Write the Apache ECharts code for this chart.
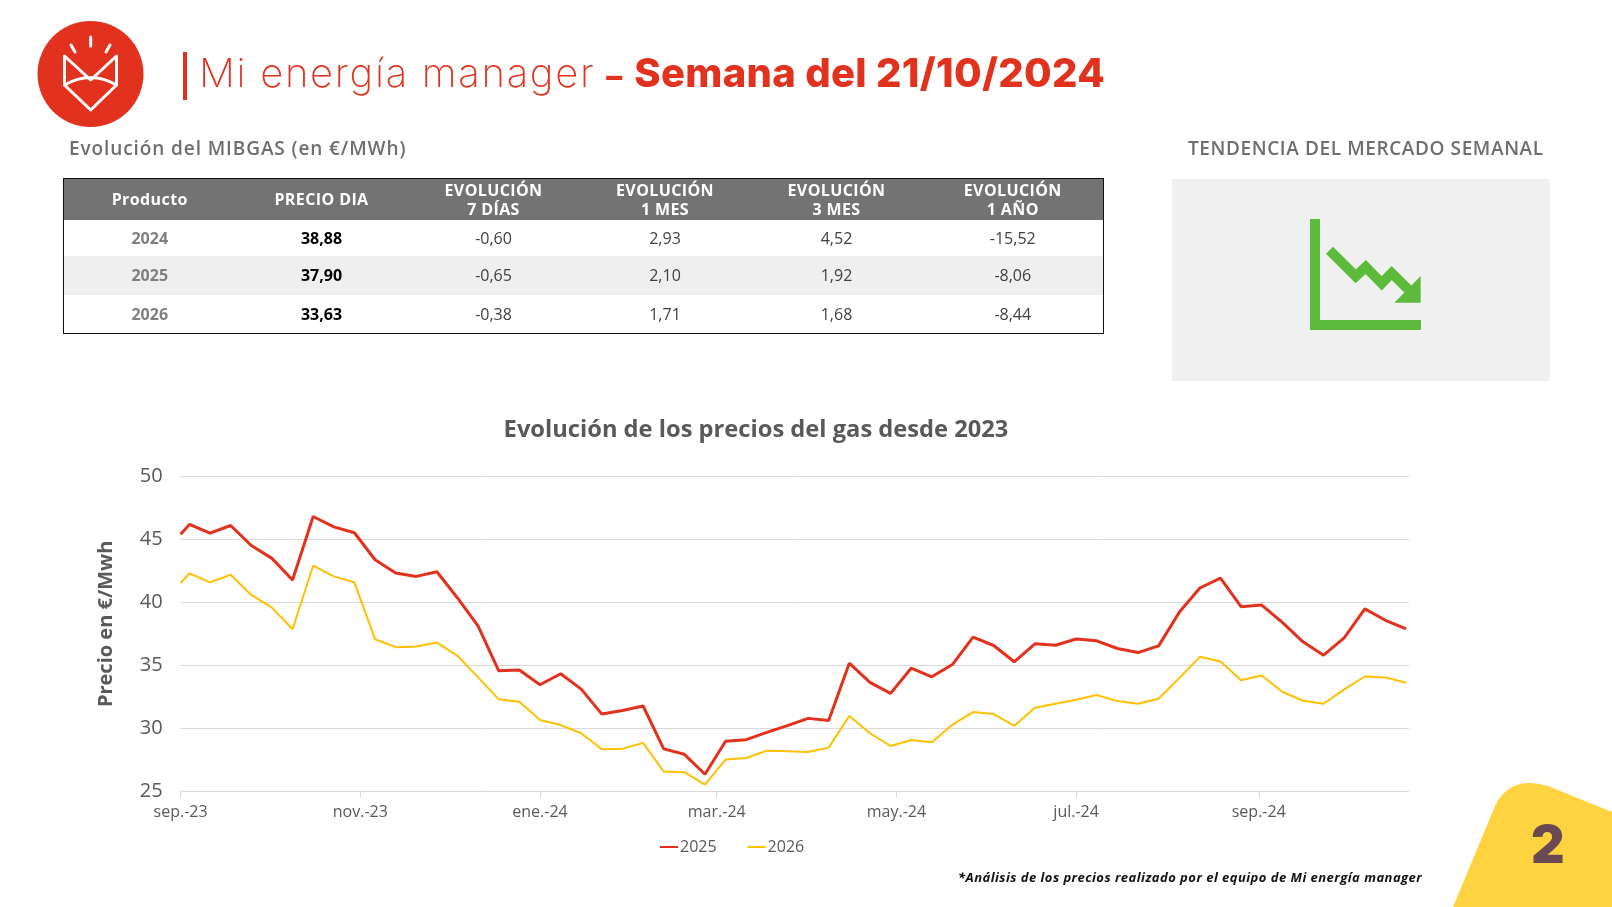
<!DOCTYPE html>
<html lang="es">
<head>
<meta charset="utf-8">
<title>Mi energía manager</title>
<script src="https://cdn.jsdelivr.net/npm/echarts@6/dist/echarts.min.js"></script>
<style>
    html, body { margin: 0; padding: 0; background: #fff; }
    body { width: 1612px; height: 907px; position: relative; overflow: hidden; font-family: "Open Sans", sans-serif; }
    #preciosChart { position: absolute; left: 0; top: 0; width: 1612px; height: 907px; }
    .abs { position: absolute; white-space: nowrap; }
    #titulo { left: 199px; top: 46px; font-family: Inter, sans-serif; font-size: 40px; line-height: 54px; color: #E2311D; font-weight: 200; letter-spacing: 1.7px; }
    #titulo b { font-weight: 800; letter-spacing: 0.3px; }
    #titulo b i { font-style: normal; font-size: 32px; letter-spacing: 0; margin-left: -2px; margin-right: 5px; }
    #barra { left: 183px; top: 52px; width: 3.5px; height: 48px; background: #E2311D; }
    .subtitulo { font-size: 19px; font-weight: 600; color: #6E6E6E; line-height: 26px; }
    #tablaPrecios { position: absolute; left: 63px; top: 178px; width: 1040px; border-collapse: collapse; table-layout: fixed; border: 1.5px solid #111; font-size: 16px; color: #404040; }
    #tablaPrecios th { background: #737373; color: #fff; height: 41px; padding: 0; font-weight: 700; font-size: 16px; line-height: 19px; letter-spacing: 0.4px; }
    #tablaPrecios td { text-align: center; padding: 0; height: 38.5px; }
    #tablaPrecios tr:nth-child(1) td { height: 36px; }
    #tablaPrecios td:first-child { color: #7F7F7F; font-weight: 700; }
    #tablaPrecios td:nth-child(2) { color: #000; font-weight: 700; }
    #tablaPrecios tr:nth-child(2) td { background: #EFEFEF; }
    #panel { left: 1172px; top: 179px; width: 378px; height: 202px; background: #F0F0F0; }
    #nota { left: 958px; top: 868px; font-size: 13px; font-weight: 700; font-style: italic; color: #111; letter-spacing: 0.47px; }
    #pagina { left: 1531px; top: 809px; font-size: 52px; line-height: 72px; font-weight: 900; color: #6A4A52; font-family: Inter, sans-serif; }
</style>
</head>
<body>
<div id="preciosChart"></div>

<!-- logo -->
<svg class="abs" style="left:0;top:0" width="200" height="140">
    <circle cx="90.5" cy="74" r="53" fill="#E2311D"/>
    <g fill="none" stroke="#fff" stroke-width="3" stroke-linecap="round" stroke-linejoin="round">
        <path d="M90.7 37V46M71 45L75 52M110 45L106 52"/>
        <path d="M64.5 56L90.7 80L116.5 56V85L90.7 110L64.5 85Z"/>
        <path d="M64.5 85Q90.7 70 116.5 85"/>
    </g>
</svg>
<div class="abs" id="barra"></div>
<div class="abs" id="titulo">Mi energía manager <b><i>– </i>Semana del 21/10/2024</b></div>

<div class="abs subtitulo" style="left:69px;top:135px;letter-spacing:0.9px">Evolución del MIBGAS (en €/MWh)</div>
<table id="tablaPrecios"></table>

<div class="abs subtitulo" style="left:1188px;top:135px;letter-spacing:0.6px">TENDENCIA DEL MERCADO SEMANAL</div>
<div class="abs" id="panel"></div>
<svg class="abs" style="left:1172px;top:179px" width="378" height="202">
    <path d="M138 40H148V141H249V151H138Z" fill="#5DBB3B"/>
    <path d="M157.5 71.2L183.7 97.3L193.7 88L209.7 104.3L219.7 94L236.3 110.5" fill="none" stroke="#5DBB3B" stroke-width="10"/>
    <path d="M248.7 97V123.7H222.3Z" fill="#5DBB3B"/>
</svg>

<div class="abs" id="nota">*Análisis de los precios realizado por el equipo de Mi energía manager</div>

<svg class="abs" style="left:1440px;top:770px" width="172" height="137">
    <path d="M13 137L55 36Q70 5 108 16L172 42V137Z" fill="#FFD23F"/>
</svg>
<div class="abs" id="pagina">2</div>

<script>
document.addEventListener("DOMContentLoaded", () => {
    // === Tabla MIBGAS ===
    const cabecera = ["Producto", "PRECIO DIA", "EVOLUCIÓN<br>7 DÍAS", "EVOLUCIÓN<br>1 MES", "EVOLUCIÓN<br>3 MES", "EVOLUCIÓN<br>1 AÑO"];
    const filas = [
        ["2024", "38,88", "-0,60", "2,93", "4,52", "-15,52"],
        ["2025", "37,90", "-0,65", "2,10", "1,92", "-8,06"],
        ["2026", "33,63", "-0,38", "1,71", "1,68", "-8,44"]
    ];
    const anchos = [172, 172, 172, 171, 172, 181];
    document.getElementById("tablaPrecios").innerHTML =
        "<colgroup>" + anchos.map(a => `<col style="width:${a}px">`).join("") + "</colgroup>" +
        "<thead><tr>" + cabecera.map(c => `<th>${c}</th>`).join("") + "</tr></thead>" +
        "<tbody>" + filas.map(f => "<tr>" + f.map(v => `<td>${v}</td>`).join("") + "</tr>").join("") + "</tbody>";

    // === Precios semanales (lunes), primer valor en el borde del eje ===
    const fechas = [new Date(2023, 8, 1)];
    for (let i = 0; i < 60; i++) fechas.push(new Date(2023, 8, 4 + i * 7));

    const precios2025 = [
        45.41, 46.18, 45.49, 46.10, 44.51, 43.49, 41.77, 46.81, 45.99, 45.52,
        43.38, 42.33, 42.06, 42.43, 40.35, 38.11, 34.57, 34.63, 33.47, 34.34,
        33.12, 31.14, 31.43, 31.78, 28.38, 27.95, 26.37, 28.98, 29.11, 29.69,
        30.22, 30.80, 30.64, 35.18, 33.65, 32.78, 34.78, 34.10, 35.07, 37.24,
        36.58, 35.29, 36.71, 36.60, 37.10, 36.95, 36.34, 36.02, 36.55, 39.21,
        41.14, 41.93, 39.66, 39.79, 38.42, 36.87, 35.81, 37.18, 39.48, 38.58, 37.90
    ];
    const precios2026 = [
        41.54, 42.30, 41.59, 42.19, 40.59, 39.58, 37.87, 42.91, 42.06, 41.59,
        37.08, 36.45, 36.50, 36.81, 35.76, 34.05, 32.31, 32.12, 30.67, 30.27,
        29.62, 28.35, 28.40, 28.85, 26.58, 26.53, 25.55, 27.53, 27.66, 28.24,
        28.19, 28.14, 28.48, 30.99, 29.62, 28.61, 29.09, 28.90, 30.30, 31.30,
        31.14, 30.22, 31.64, 31.96, 32.28, 32.65, 32.17, 31.96, 32.36, 33.99,
        35.68, 35.31, 33.83, 34.20, 32.91, 32.20, 31.96, 33.10, 34.12, 34.05, 33.63
    ];

    const meses = ["ene", "feb", "mar", "abr", "may", "jun", "jul", "ago", "sep", "oct", "nov", "dic"];
    const marcas = [
        new Date(2023, 8, 1), new Date(2023, 10, 1), new Date(2024, 0, 1), new Date(2024, 2, 1),
        new Date(2024, 4, 1), new Date(2024, 6, 1), new Date(2024, 8, 1)
    ].map(d => d.getTime());

    const preciosChart = echarts.init(document.getElementById("preciosChart"));
    const fuente = "'Open Sans', sans-serif";

    preciosChart.setOption({
        backgroundColor: "transparent",
        animation: false,
        title: {
            text: "Evolución de los precios del gas desde 2023",
            left: 751,
            top: 413,
            textAlign: "center",
            textStyle: { color: "#595959", fontFamily: fuente, fontSize: 23.7, fontWeight: 700 }
        },
        legend: {
            data: ["2025", "2026"],
            icon: "rect",
            left: 655,
            top: 834,
            itemWidth: 18,
            itemHeight: 2,
            itemGap: 31,
            textStyle: { color: "#595959", fontFamily: fuente, fontSize: 16, padding: [0, 0, 0, -3] }
        },
        grid: { left: 180.6, right: 203, top: 476.3, bottom: 115.5 },
        // eje numérico sobre milisegundos: marcas bimestrales puestas a mano
        xAxis: {
            type: "value",
            min: new Date(2023, 8, 1).getTime(),
            max: new Date(2024, 9, 22).getTime(),
            axisLine: { lineStyle: { color: "#D9D9D9", width: 1 } },
            axisTick: { length: 6, lineStyle: { color: "#D9D9D9" }, customValues: marcas },
            splitLine: { show: false },
            axisLabel: {
                color: "#595959",
                fontFamily: fuente,
                fontSize: 16,
                margin: 13,
                customValues: marcas,
                formatter: v => {
                    const d = new Date(v);
                    return meses[d.getMonth()] + ".-" + String(d.getFullYear()).slice(2);
                }
            }
        },
        yAxis: {
            type: "value",
            min: 25,
            max: 50,
            interval: 5,
            name: "Precio en €/Mwh",
            nameLocation: "middle",
            nameRotate: 90,
            nameGap: 64,
            nameTextStyle: { color: "#595959", fontFamily: fuente, fontSize: 20, fontWeight: 700, padding: [0, 0, 0, 20] },
            axisLine: { show: false },
            axisTick: { show: false },
            splitLine: { lineStyle: { color: "#D9D9D9", width: 1 } },
            axisLabel: { color: "#595959", fontFamily: fuente, fontSize: 20, margin: 18 }
        },
        series: [
            {
                name: "2025",
                type: "line",
                symbol: "none",
                lineStyle: { width: 3, color: "#E2311D" },
                itemStyle: { color: "#E2311D" },
                data: fechas.map((f, i) => [f.getTime(), precios2025[i]])
            },
            {
                name: "2026",
                type: "line",
                symbol: "none",
                lineStyle: { width: 2, color: "#FFC000" },
                itemStyle: { color: "#FFC000" },
                data: fechas.map((f, i) => [f.getTime(), precios2026[i]])
            }
        ]
    });
});
</script>
</body>
</html>
